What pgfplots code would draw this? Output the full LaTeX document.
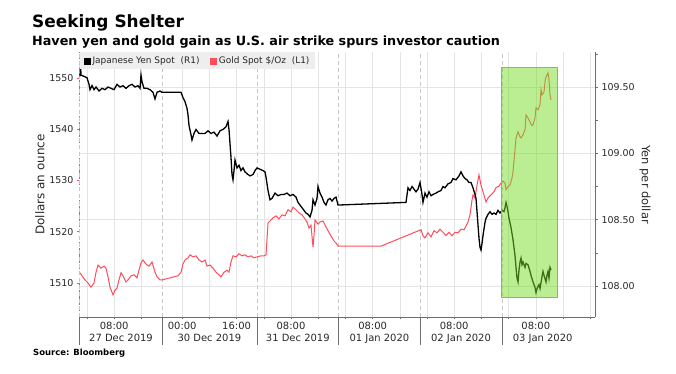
\documentclass[border=0pt]{standalone}
\usepackage{pgfplots}
\pgfplotsset{compat=1.18}
\usepackage{fontspec}
\setmainfont{DejaVu Sans}
\definecolor{goldred}{RGB}{255,77,94}
\definecolor{gridgray}{RGB}{228,228,228}
\definecolor{dashgray}{RGB}{200,200,200}
\definecolor{axgray}{RGB}{110,110,110}
\definecolor{txt}{RGB}{40,40,40}
\definecolor{boxgreen}{RGB}{120,220,40}
\definecolor{boxedge}{RGB}{120,200,70}
\definecolor{legbg}{RGB}{238,238,238}
\begin{document}
\begin{tikzpicture}
\path[use as bounding box] (0,0) rectangle (676bp,374bp);
% ---------- Gold axis (left) ----------
\begin{axis}[
  at={(79.5bp,57bp)}, anchor=south west, scale only axis,
  width=515.5bp, height=265bp, clip=false,
  xmin=-2.206, xmax=149.41, ymin=1503.37, ymax=1555.07,
  axis x line*=bottom, axis y line*=left,
  axis line style={-},
  x axis line style={draw=axgray, line width=0.8bp},
  y axis line style={draw=goldred, line width=0.6bp, dash pattern=on 3bp off 3bp},
  xtick={0,8,16,28,36,44,52,60,68,76,84,92,100,108,116,124,132,140,148},
  xticklabels={,08:00,,00:00,,16:00,,08:00,,,08:00,,,08:00,,,08:00,,},
  xmajorgrids, major grid style={gridgray, line width=0.6bp},
  extra x ticks={-2.206,22,50,74,98,122}, extra x tick labels={},
  extra x tick style={grid=major, major grid style={dashgray, line width=0.6bp, dash pattern=on 4bp off 3bp}, major tick length=28bp, tick style={axgray, line width=0.6bp}},
  ytick={1510,1520,1530,1540,1550},
  extra y ticks={1509.425,1522.363,1535.30,1548.24}, extra y tick labels={},
  extra y tick style={grid=major, major grid style={gridgray, line width=0.6bp}, major tick length=0bp},
  tick align=outside, major tick length=2.5bp,
  x tick style={axgray, line width=0.5bp},
  y tick style={goldred, line width=0.6bp},
  /pgf/number format/assume math mode=true,
  /pgf/number format/1000 sep={},
  tick label style={txt},
  yticklabel style={font=\fontsize{9.5}{11}\selectfont},
  xticklabel style={font=\fontsize{10}{12}\selectfont, inner sep=0pt, yshift=-2bp},
]
\node[font=\fontsize{10}{12}\selectfont, txt, anchor=base, yshift=-25bp] at (axis cs:10,1503.37) {27 Dec 2019};
\node[font=\fontsize{10}{12}\selectfont, txt, anchor=base, yshift=-25bp] at (axis cs:36,1503.37) {30 Dec 2019};
\node[font=\fontsize{10}{12}\selectfont, txt, anchor=base, yshift=-25bp] at (axis cs:62,1503.37) {31 Dec 2019};
\node[font=\fontsize{10}{12}\selectfont, txt, anchor=base, yshift=-25bp] at (axis cs:86,1503.37) {01 Jan 2020};
\node[font=\fontsize{10}{12}\selectfont, txt, anchor=base, yshift=-25bp] at (axis cs:110,1503.37) {02 Jan 2020};
\node[font=\fontsize{10}{12}\selectfont, txt, anchor=base, yshift=-25bp] at (axis cs:134,1503.37) {03 Jan 2020};
\addplot[goldred, line width=1bp] coordinates {
(-2.06,1512.0)(-1.47,1511.4)(-0.59,1510.6)(0.29,1510.0)(1.18,1509.2)(2.06,1510.0)(2.65,1512.1)(3.24,1513.5)(4.12,1512.9)(5.0,1513.3)(5.59,1512.9)(6.18,1511.2)(6.76,1509.2)(7.65,1507.7)(8.24,1508.6)(8.82,1509.0)(9.41,1510.6)(10.0,1512.0)(10.59,1511.4)(11.47,1510.2)(12.06,1510.6)(12.94,1511.4)(13.82,1511.6)(14.71,1511.0)(15.29,1512.5)(15.88,1513.9)(16.47,1514.5)(17.35,1513.7)(18.24,1513.3)(19.12,1514.1)(20.0,1512.1)(20.59,1511.2)(21.47,1510.6)(22.06,1510.6)
(26.76,1511.4)(27.65,1512.1)(28.24,1513.7)(28.82,1514.5)(29.71,1514.9)(30.29,1515.5)(31.18,1515.1)(32.06,1515.3)(32.94,1514.5)(33.82,1514.1)(34.71,1514.5)(35.29,1513.3)(36.18,1513.5)(37.06,1512.9)(37.94,1512.1)(38.82,1511.6)(39.41,1511.2)(40.29,1512.1)(41.18,1512.5)(41.76,1512.1)(42.35,1514.1)(42.94,1515.3)(43.82,1515.1)(44.71,1515.7)(45.59,1515.3)(46.47,1515.5)(47.35,1515.1)(48.24,1515.3)(49.12,1514.9)(50.0,1515.1)(51.18,1515.3)(52.06,1515.3)(52.65,1515.5)
(53.24,1521.7)(53.82,1522.1)(54.71,1522.7)(55.59,1523.1)(56.47,1522.5)(57.35,1523.3)(58.24,1523.1)(59.12,1524.3)(60.0,1523.9)(60.59,1524.8)(61.47,1524.3)(62.35,1523.7)(63.24,1523.3)(64.12,1522.5)(64.71,1521.9)(65.29,1520.7)(65.88,1521.3)(66.47,1517.0)(66.76,1519.2)(67.06,1522.3)(67.94,1521.5)(68.53,1521.9)(69.41,1522.1)(70.0,1521.3)(70.88,1520.2)(71.76,1519.2)(72.65,1518.2)(73.24,1517.8)(73.82,1517.2)
(86.47,1517.2)(98.24,1520.4)(98.82,1519.2)(99.41,1518.8)(100.29,1519.8)(101.18,1519.0)(102.06,1520.2)(102.94,1519.8)(103.82,1520.5)(104.71,1519.9)(105.59,1519.3)(106.47,1519.9)(107.35,1519.2)(108.24,1519.9)(109.12,1519.8)(110.0,1520.5)(110.88,1520.4)(111.47,1521.1)(112.06,1521.9)(112.65,1523.3)(113.24,1526.2)(113.53,1527.2)(114.12,1526.6)(114.71,1529.1)(115.29,1531.1)(115.88,1529.1)(116.47,1527.8)(117.35,1525.8)(117.94,1526.6)(118.82,1527.2)(119.71,1527.8)(120.29,1528.6)(121.18,1528.9)(121.76,1529.5)
(122.35,1529.9)(122.94,1529.5)(123.24,1528.2)(123.82,1528.8)(124.41,1529.1)(125.0,1530.5)(125.29,1531.7)(125.88,1536.0)(126.18,1538.3)(126.76,1539.5)(127.35,1538.5)(127.65,1538.3)(128.24,1538.9)(128.82,1539.9)(129.12,1542.8)(129.71,1542.2)(130.29,1541.4)(130.88,1540.7)(131.18,1540.9)(131.76,1542.2)(132.06,1544.2)(132.65,1543.8)(133.24,1544.8)(133.53,1547.7)(133.82,1546.7)(134.41,1547.3)(134.71,1549.3)(135.0,1550.2)(135.59,1551.0)(135.88,1549.6)(136.18,1546.7)(136.47,1545.7)
};
\end{axis}
% ---------- Yen axis (right) ----------
\begin{axis}[
  at={(79.5bp,57bp)}, anchor=south west, scale only axis,
  width=515.5bp, height=265bp, clip=false,
  xmin=-2.206, xmax=149.41, ymin=107.766, ymax=109.764,
  axis x line=none, axis y line*=right,
  axis line style={-, draw=axgray, line width=0.8bp},
  ytick={108,108.5,109,109.5},
  minor ytick={108.25,108.75,109.25,109.75},
  tick align=outside, major tick length=3bp, minor tick length=3bp,
  y tick style={axgray, line width=0.6bp},
  /pgf/number format/assume math mode=true,
  yticklabel style={font=\fontsize{9.5}{11}\selectfont, txt, /pgf/number format/.cd, fixed, fixed zerofill, precision=2},
  legend style={at={(0,1)}, anchor=north west, xshift=0.5bp, fill=legbg, draw=none,
    font=\fontsize{9}{11}\selectfont, text=txt, inner xsep=4bp, inner ysep=2.5bp,
    /tikz/every even column/.append style={column sep=9bp}},
  legend columns=2, legend cell align=left,
]
\addlegendimage{legend image code/.code={\fill[black] (0bp,-3bp) rectangle (6bp,3bp);}}
\addlegendentry{Japanese Yen Spot\ \ (R1)}
\addlegendimage{legend image code/.code={\fill[goldred] (0bp,-3bp) rectangle (6bp,3bp);}}
\addlegendentry{Gold Spot \$/Oz\ \ (L1)}
\addplot[black, line width=1.3bp] coordinates {
(-2.06,109.58)(-1.9,109.67)(-1.76,109.59)(-0.88,109.58)(0.0,109.57)(0.59,109.52)(0.88,109.48)(1.47,109.51)(2.06,109.48)(2.65,109.50)(3.53,109.47)(4.41,109.49)(5.29,109.48)(6.18,109.50)(7.06,109.49)(7.94,109.48)(8.82,109.52)(9.71,109.50)(10.59,109.51)(11.47,109.49)(12.35,109.51)(13.24,109.52)(14.12,109.50)(15.0,109.51)(15.59,109.49)(15.88,109.59)(16.18,109.54)(16.76,109.49)(17.65,109.49)(18.53,109.48)(19.41,109.46)(20.0,109.41)(20.59,109.46)(21.47,109.47)(22.06,109.46)
(26.76,109.46)(27.65,109.46)(28.24,109.42)(28.82,109.39)(29.41,109.34)(29.71,109.29)(30.0,109.21)(30.59,109.14)(30.88,109.10)(31.47,109.15)(32.06,109.18)(32.94,109.15)(33.82,109.15)(34.71,109.15)(35.59,109.17)(36.47,109.15)(37.35,109.16)(38.24,109.13)(39.12,109.17)(40.0,109.18)(40.88,109.20)(41.47,109.24)(41.76,109.18)(42.35,108.97)(42.65,108.84)(42.94,108.80)(43.24,108.87)(43.53,108.95)(44.12,108.89)(44.71,108.91)(45.29,108.87)(45.88,108.89)(46.47,108.86)(47.35,108.84)(47.94,108.83)(48.82,108.84)(49.41,108.87)(50.0,108.89)(50.88,108.88)(51.76,108.87)(52.35,108.86)(52.65,108.82)
(53.24,108.72)(53.82,108.65)(54.41,108.66)(55.29,108.70)(56.18,108.68)(57.06,108.69)(57.94,108.69)(58.82,108.70)(59.71,108.68)(60.59,108.69)(61.47,108.67)(62.06,108.63)(62.94,108.60)(63.82,108.57)(64.41,108.55)(65.0,108.54)(65.59,108.52)(66.18,108.57)(66.47,108.65)(67.06,108.61)(67.65,108.66)(67.94,108.75)(68.53,108.70)(69.12,108.67)(69.71,108.63)(70.29,108.61)(70.88,108.65)(71.47,108.66)(72.06,108.64)(72.65,108.66)(73.24,108.67)(73.82,108.61)
(93.82,108.63)(94.41,108.74)(95.0,108.72)(95.59,108.75)(96.18,108.73)(96.76,108.71)(97.35,108.73)(97.94,108.78)(98.53,108.69)(98.82,108.63)(99.41,108.70)(100.0,108.67)(100.59,108.71)(101.18,108.68)(101.76,108.69)(102.65,108.70)(103.24,108.71)(104.12,108.72)(104.71,108.75)(105.29,108.74)(106.18,108.77)(107.06,108.78)(107.65,108.81)(108.53,108.80)(109.41,108.83)(110.0,108.86)(110.59,108.83)(111.18,108.81)(111.76,108.80)(112.35,108.78)(112.94,108.78)(113.53,108.74)(114.12,108.69)(114.41,108.66)(114.71,108.56)(115.0,108.46)(115.29,108.36)(115.59,108.29)(115.88,108.27)(116.18,108.32)(116.47,108.38)(117.06,108.48)(117.35,108.51)(117.94,108.54)(118.53,108.56)(119.12,108.54)(119.71,108.55)(120.29,108.54)(120.88,108.57)(121.47,108.55)
(122.06,108.57)(122.65,108.56)(122.94,108.59)(123.24,108.63)(123.53,108.60)(123.82,108.56)(124.12,108.51)(124.71,108.44)(125.29,108.35)(125.88,108.23)(126.18,108.14)(126.47,108.06)(126.76,108.03)(127.06,108.12)(127.35,108.18)(127.65,108.21)(127.94,108.16)(128.24,108.18)(128.82,108.14)(129.12,108.17)(129.71,108.16)(130.29,108.11)(130.59,108.08)(131.18,108.03)(131.76,107.99)(132.06,107.95)(132.35,107.98)(132.94,108.01)(133.24,107.98)(133.82,108.07)(134.12,108.11)(134.41,108.08)(135.0,108.03)(135.29,108.08)(135.59,108.11)(135.88,108.06)(136.18,108.14)(136.47,108.12)
};
\fill[boxgreen, fill opacity=0.5] (axis cs:121.76,107.917) rectangle (axis cs:138.24,109.651);
\draw[boxedge, line width=0.6bp] (axis cs:121.76,107.917) rectangle (axis cs:138.24,109.651);
\end{axis}
% ---------- texts ----------
\node[anchor=base west, inner sep=0pt, font=\bfseries\fontsize{17}{20}\selectfont] at (32bp,346bp) {Seeking Shelter};
\node[anchor=base west, inner sep=0pt, font=\bfseries\fontsize{12.8}{15}\selectfont] at (32bp,328bp) {Haven yen and gold gain as U.S. air strike spurs investor caution};
\node[anchor=base west, inner sep=0pt, font=\bfseries\fontsize{8.5}{10}\selectfont] at (33bp,19bp) {Source: Bloomberg};
\node[rotate=90, inner sep=0pt, font=\fontsize{12}{14}\selectfont, txt] at (40bp,189.5bp) {Dollars an ounce};
\node[rotate=-90, inner sep=0pt, font=\fontsize{11.5}{14}\selectfont, txt] at (645bp,189.5bp) {Yen per dollar};
\end{tikzpicture}
\end{document}
